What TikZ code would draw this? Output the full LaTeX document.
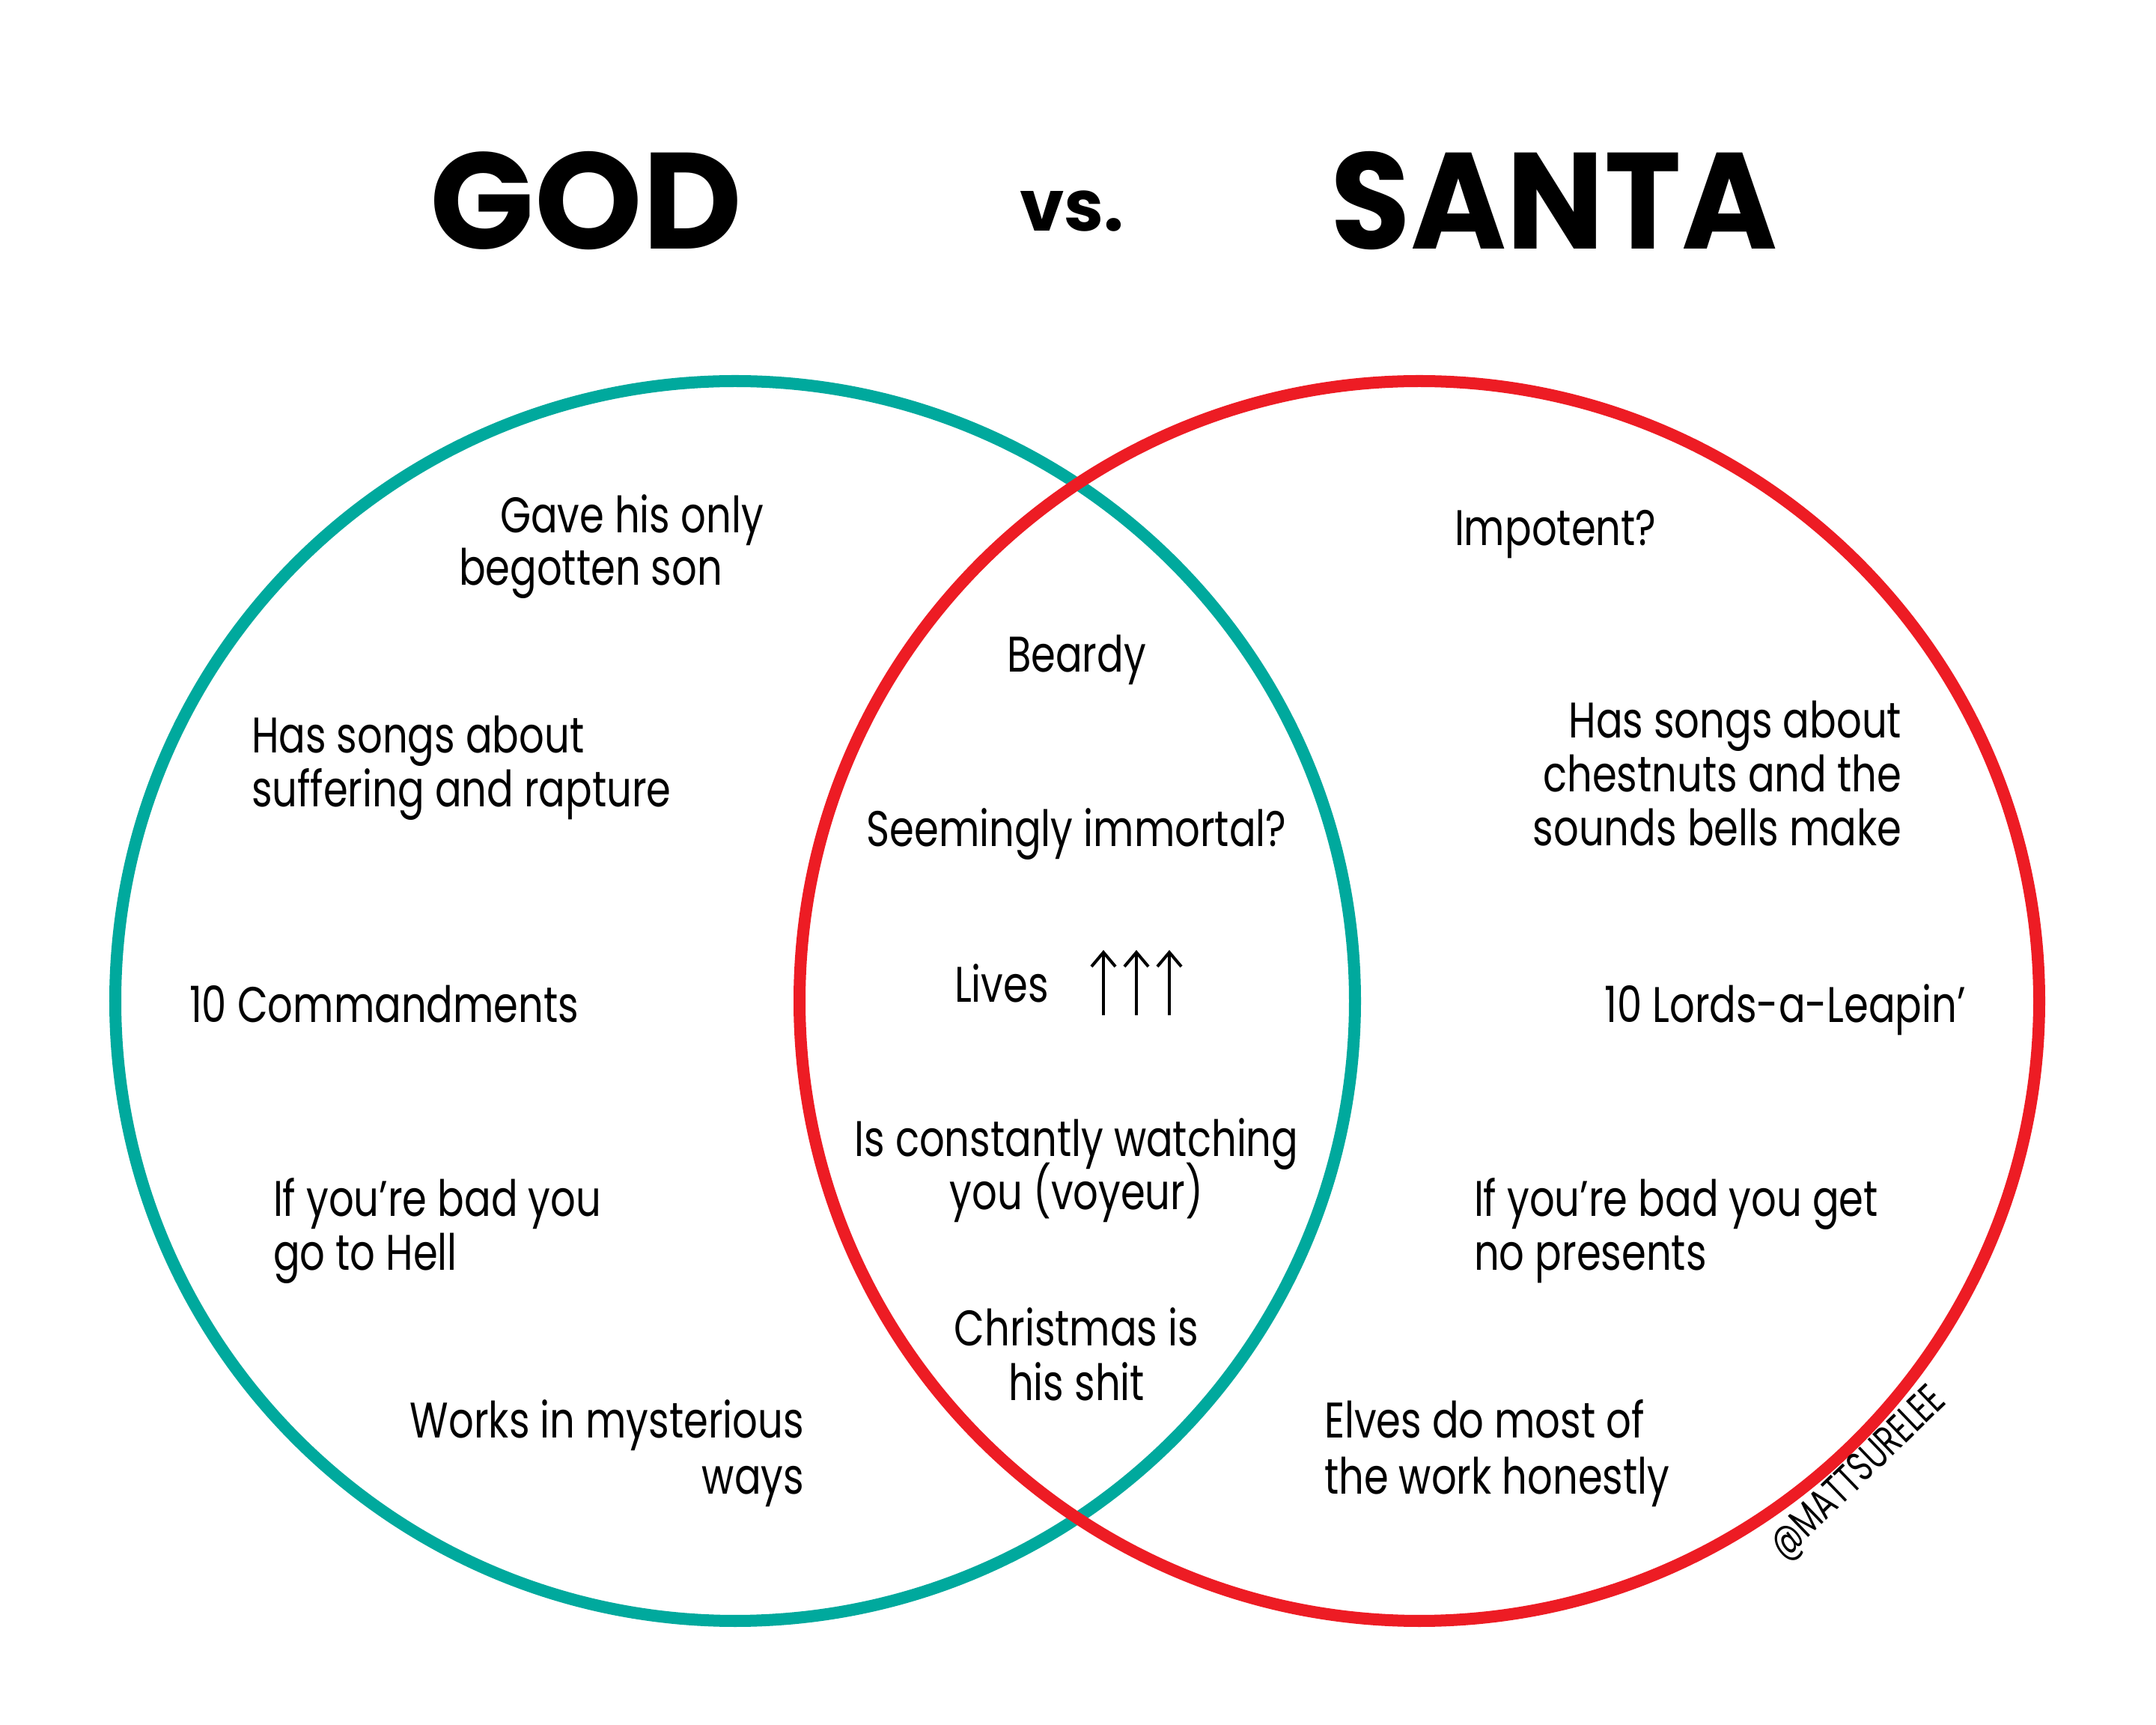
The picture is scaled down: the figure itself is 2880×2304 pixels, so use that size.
\documentclass[tikz,border=0pt]{standalone}
\usepackage{fontspec}
\setmainfont{Poppins}[FakeStretch=0.79]
\newfontfamily\titlefont{Poppins}
\newfontfamily\markfont{Poppins}[FakeStretch=0.72]
\definecolor{godteal}{RGB}{0,169,157}
\definecolor{santared}{RGB}{237,28,36}
\begin{document}
\begin{tikzpicture}[x=0.01cm,y=-0.01cm,
  txt/.style={inner sep=0pt,outer sep=0pt,font=\fontsize{19pt}{19pt}\selectfont},
  ttl/.style={inner sep=0pt,outer sep=0pt,anchor=base,font=\titlefont\bfseries\fontsize{52pt}{52pt}\selectfont},
  ring/.style={line width=0.16cm},
  uparrow/.style={line width=0.04cm,line cap=butt,miter limit=10}]
\useasboundingbox (0,0) rectangle (2880,2304);
\fill[white] (0,0) rectangle (2880,2304);
% titles
\node[ttl] (god) at (783,333) {GOD};
\node[ttl,font=\titlefont\bfseries\fontsize{27pt}{27pt}\selectfont] (vs) at (1432,309) {vs.};
\node[ttl,xscale=0.95] (santa) at (2076,333) {SANTA};
% circles
\draw[ring,godteal] (982,1337) circle[radius=828];
\draw[ring,santared] (1896,1337) circle[radius=828];
% left (God only)
\node[txt,anchor=base west] (g1a) at (668,712) {Gave his only};
\node[txt,anchor=base west] (g1b) at (613,782) {begotten son};
\node[txt,anchor=base west] (g2a) at (336,1006) {Has songs about};
\node[txt,anchor=base west] (g2b) at (336,1078) {suffering and rapture};
\node[txt,anchor=base west] (g3) at (253,1366) {10 Commandments};
\node[txt,anchor=base west] (g4a) at (365,1625) {If you’re bad you};
\node[txt,anchor=base west] (g4b) at (365,1697) {go to Hell};
\node[txt,anchor=base east] (g5a) at (1074,1921) {Works in mysterious};
\node[txt,anchor=base east] (g5b) at (1074,1995) {ways};
% middle (both)
\node[txt,anchor=base] (b1) at (1438,898) {Beardy};
\node[txt,anchor=base] (b2) at (1438,1131) {Seemingly immortal?};
\node[txt,anchor=base west] (b3) at (1275,1339) {Lives};
\node[txt,anchor=base] (b4a) at (1438,1545) {Is constantly watching};
\node[txt,anchor=base] (b4b) at (1438,1616) {you (voyeur)};
\node[txt,anchor=base] (b5a) at (1438,1798) {Christmas is};
\node[txt,anchor=base] (b5b) at (1438,1870) {his shit};
% arrows
\foreach \ax [count=\i] in {1474,1518,1562}{
  \coordinate (arrtop\i) at (\ax,1272);
  \coordinate (arrbot\i) at (\ax,1356);
  \draw[uparrow] (arrbot\i) -- (arrtop\i);
  \draw[uparrow] ([xshift=-0.16cm,yshift=-0.19cm]arrtop\i) -- (arrtop\i) -- ([xshift=0.16cm,yshift=-0.19cm]arrtop\i);
}
% right (Santa only)
\node[txt,anchor=base west] (s1) at (1943,729) {Impotent?};
\node[txt,anchor=base east] (s2a) at (2540,986) {Has songs about};
\node[txt,anchor=base east] (s2b) at (2540,1058) {chestnuts and the};
\node[txt,anchor=base east] (s2c) at (2540,1130) {sounds bells make};
\node[txt,anchor=base east] (s3) at (2626,1366) {10 Lords-a-Leapin’};
\node[txt,anchor=base west] (s4a) at (1969,1625) {If you’re bad you get};
\node[txt,anchor=base west] (s4b) at (1969,1697) {no presents};
\node[txt,anchor=base west] (s5a) at (1769,1921) {Elves do most of};
\node[txt,anchor=base west] (s5b) at (1769,1995) {the work honestly};
% watermark
\node[inner sep=0pt,outer sep=0pt,anchor=base,rotate=44,font=\markfont\fontsize{16pt}{16pt}\selectfont] (mark) at (2493,1979) {@MATTSURELEE};
\end{tikzpicture}
\end{document}
